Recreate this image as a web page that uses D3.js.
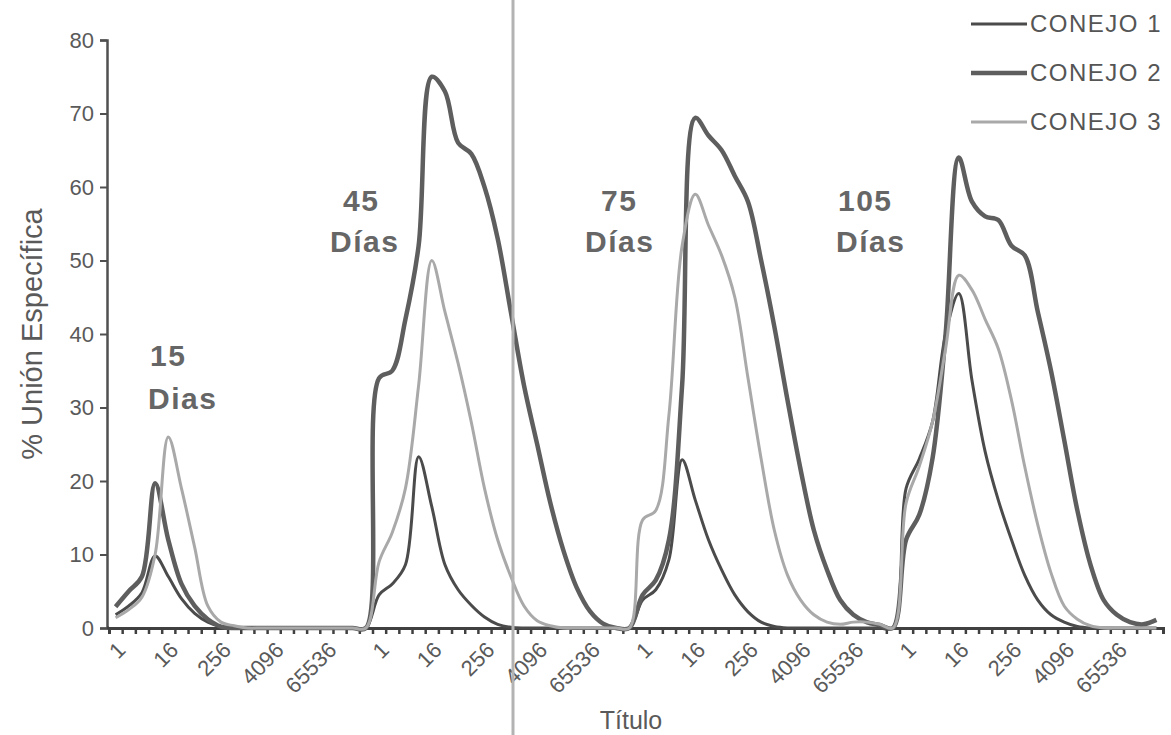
<!DOCTYPE html>
<html>
<head>
<meta charset="utf-8">
<script src="https://cdnjs.cloudflare.com/ajax/libs/d3/7.8.5/d3.min.js"></script>
<style>
  body { margin: 0; background: #fff; }
  text { font-family: Arial, "Liberation Sans", sans-serif; }
</style>
</head>
<body>
<div id="chart"></div>
<script>
// dilution titles, repeated for every bleed day
var dilutions = ["1","2","4","8","16","32","64","128","256","512","1024","2048",
    "4096","8192","16384","32768","65536","131072","262144","524288"];
var days = ["15", "45", "75", "105"];
var tickLabels = ["1", "16", "256", "4096", "65536"];
var yTicks = [0, 10, 20, 30, 40, 50, 60, 70, 80];

// % specific binding, 20 values per day block
var conejo1 = [
    1.8, 3, 4.8, 9.8, 7, 4, 2, 0.8, 0.2, 0, 0, 0, 0, 0, 0, 0, 0, 0, 0, 0,
    4.5, 6, 8.6, 23.3, 16.5, 8.6, 5.2, 3.1, 1.5, 0.5, 0.1, 0, 0, 0, 0, 0, 0, 0, 0, 0,
    3.8, 5.2, 9.3, 22.9, 17.4, 12, 7.9, 4.5, 2.2, 0.8, 0.2, 0, 0, 0, 0, 0, 0, 0, 0, 0,
    19, 23, 28, 40, 45.5, 33.7, 24, 17.4, 12, 7.2, 3.8, 1.8, 0.8, 0.2, 0, 0, 0, 0, 0, 0
];
var conejo2 = [
    2.9, 5, 7, 19.7, 12, 6, 3, 1.2, 0.2, 0, 0, 0, 0, 0, 0, 0, 0, 0, 0, 0,
    34, 35, 42, 52, 75, 73, 66, 64.5, 60, 53, 43, 33, 25, 17, 10.5, 5.5, 2.3, 0.6, 0, 0,
    4.5, 6.5, 12, 33, 69.4, 67, 65, 61.5, 58, 50, 41, 31, 21.5, 13.3, 7.9, 3.8, 1.8, 0.8, 0.4, 0,
    12, 15.4, 23, 40, 64, 58, 56, 55.5, 52, 50.7, 43, 35, 25.6, 16, 8.6, 3.8, 1.8, 0.8, 0.5, 1.1
];
var conejo3 = [
    1.4, 2.5, 4.2, 10, 26, 19, 11, 3, 0.8, 0.3, 0, 0, 0, 0, 0, 0, 0, 0, 0, 0,
    9, 13, 19, 33, 50, 43, 36, 28, 19, 12, 7, 3, 1, 0.3, 0, 0, 0, 0, 0, 0,
    14.7, 16, 29, 52, 59, 54.8, 50.7, 45, 34, 23, 13.3, 7.2, 3.8, 1.8, 0.8, 0.5, 0.8, 0.8, 0.5, 0,
    17, 22, 28, 38, 48, 46, 42, 38, 31, 22, 14, 7.5, 3, 1.2, 0.3, 0, 0, 0, 0, 0
];

var categories = [];
days.forEach(function(day){
    dilutions.forEach(function(dil){
        categories.push({day: day, dil: dil});
    });
});

var series = [
    {name: "CONEJO 1", values: conejo1, color: "#4b4b4b", width: 3},
    {name: "CONEJO 2", values: conejo2, color: "#5e5e5e", width: 4.5},
    {name: "CONEJO 3", values: conejo3, color: "#a9a9a9", width: 3}
];

var svg_width = 1171;
var svg_height = 735;

var svg = d3.select("#chart")
    .append("svg")
    .attr("width", svg_width)
    .attr("height", svg_height);

var x_scale = d3.scaleBand()
    .domain(d3.range(categories.length))
    .range([109, 1163]);

var x_edges = d3.scaleLinear()
    .domain([0, categories.length])
    .range([109, 1163]);

var y_scale = d3.scaleLinear()
    .domain([0, 80])
    .range([628, 40]);

// y axis
var left_axis = d3.axisLeft(y_scale)
    .tickValues(yTicks)
    .tickSize(7)
    .tickPadding(6);

var yAxis = svg.append("g")
    .attr("transform", "translate(107,0)")
    .call(left_axis);
yAxis.select(".domain").attr("stroke", "#505050").attr("stroke-width", 2.5);
yAxis.selectAll(".tick line").attr("stroke", "#505050").attr("stroke-width", 2);
yAxis.selectAll("text")
    .style("font-size", "22px")
    .style("fill", "#5a5a5a");

// tick marks between categories
var tick_axis = d3.axisBottom(x_edges)
    .tickValues(d3.range(categories.length + 1))
    .tickSize(6)
    .tickFormat("");

var xTicks = svg.append("g")
    .attr("transform", "translate(0,628)")
    .call(tick_axis);
xTicks.select(".domain").attr("stroke", "#404040").attr("stroke-width", 3);
xTicks.selectAll(".tick line").attr("stroke", "#404040").attr("stroke-width", 2.5);
svg.append("line")
    .attr("x1", 107).attr("x2", 109)
    .attr("y1", 628).attr("y2", 628)
    .attr("stroke", "#404040").attr("stroke-width", 3);

// rotated dilution labels
var bottom_axis = d3.axisBottom(x_scale)
    .tickValues(x_scale.domain().filter(function(i){ return tickLabels.indexOf(categories[i].dil) >= 0; }))
    .tickSize(0)
    .tickFormat(function(i){ return categories[i].dil; });

var xLabels = svg.append("g")
    .attr("transform", "translate(0,628)")
    .call(bottom_axis);
xLabels.select(".domain").remove();
xLabels.selectAll("text")
    .attr("x", 0)
    .attr("y", 0)
    .attr("dy", "0.35em")
    .attr("text-anchor", "end")
    .attr("transform", "translate(6,18) rotate(-45)")
    .style("font-size", "22px")
    .style("fill", "#5a5a5a");

// lines
var line = d3.line()
    .x(function(d, i){ return x_scale(i) + x_scale.bandwidth() / 2; })
    .y(function(d){ return y_scale(d); })
    .curve(d3.curveCatmullRom.alpha(0.5));

svg.selectAll(".serie")
    .data(series)
    .enter()
    .append("path")
    .attr("class", "serie")
    .attr("d", function(d){ return line(d.values); })
    .attr("fill", "none")
    .attr("stroke", function(d){ return d.color; })
    .attr("stroke-width", function(d){ return d.width; })
    .attr("stroke-linejoin", "round");

// day labels
var dayLabels = [
    {top: "15", bottom: "Dias", x1: 150, x2: 148, y1: 366, y2: 409},
    {top: "45", bottom: "Días", x1: 343, x2: 330, y1: 211, y2: 252},
    {top: "75", bottom: "Días", x1: 601, x2: 585, y1: 211, y2: 252},
    {top: "105", bottom: "Días", x1: 838, x2: 836, y1: 211, y2: 252}
];
var dayGroup = svg.selectAll(".day")
    .data(dayLabels)
    .enter()
    .append("g")
    .attr("class", "day");
dayGroup.append("text")
    .attr("x", function(d){ return d.x1; })
    .attr("y", function(d){ return d.y1; })
    .text(function(d){ return d.top; });
dayGroup.append("text")
    .attr("x", function(d){ return d.x2; })
    .attr("y", function(d){ return d.y2; })
    .text(function(d){ return d.bottom; });
dayGroup.selectAll("text")
    .style("font-size", "30px")
    .style("font-weight", "bold")
    .style("letter-spacing", "1.5px")
    .style("fill", "#666");

// axis titles
svg.append("text")
    .attr("transform", "translate(42,334) rotate(-90)")
    .attr("text-anchor", "middle")
    .style("font-size", "29px")
    .style("fill", "#5a5a5a")
    .text("% Unión Específica");

svg.append("text")
    .attr("x", 631)
    .attr("y", 729)
    .attr("text-anchor", "middle")
    .style("font-size", "25px")
    .style("fill", "#5a5a5a")
    .text("Título");

// legend
var legend = svg.selectAll(".legend")
    .data(series)
    .enter()
    .append("g")
    .attr("class", "legend")
    .attr("transform", function(d, i){ return "translate(0," + (24 + i * 49) + ")"; });
legend.append("line")
    .attr("x1", 971)
    .attr("x2", 1027)
    .attr("stroke", function(d){ return d.color; })
    .attr("stroke-width", function(d){ return d.width; });
legend.append("text")
    .attr("x", 1030)
    .attr("dy", "0.35em")
    .style("font-size", "24px")
    .style("letter-spacing", "1.5px")
    .style("fill", "#555")
    .text(function(d){ return d.name; });

// grey divider
svg.append("line")
    .attr("x1", 513)
    .attr("x2", 513)
    .attr("y1", 0)
    .attr("y2", svg_height)
    .attr("stroke", "#b3b3b3")
    .attr("stroke-width", 3);
</script>
</body>
</html>
